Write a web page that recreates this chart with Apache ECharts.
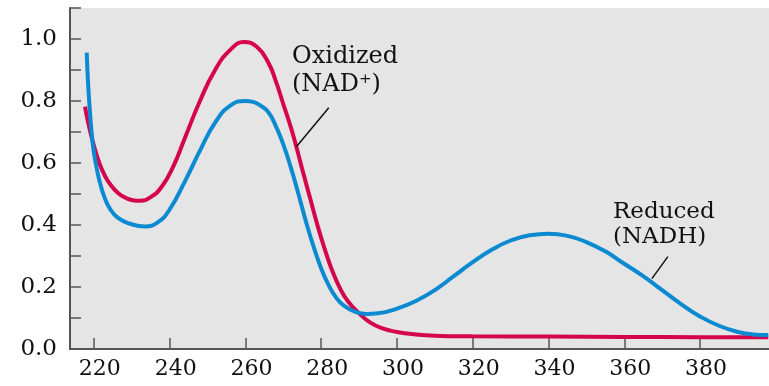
<!DOCTYPE html>
<html>
<head>
<meta charset="utf-8">
<script src="https://cdn.jsdelivr.net/npm/echarts@6/dist/echarts.min.js"></script>
<style>
html,body{margin:0;padding:0;background:#fff;}
#c{width:769px;height:386px;}
</style>
</head>
<body>
<div id="c"></div>
<script>
// Wavelength (nm) and absorbance values
const oxidizedNm  = [217.66,218.45,219.51,220.56,221.62,222.94,224.26,226.37,228.48,230.6,232.2,235,238,241,244,248,252,256,259.6,263,266,268,270,272,273.5,275,277,279,281,283,285,287,290,293,296,300,305,310,320,340,360,380,398];
const oxidizedAbs = [0.782,0.733,0.678,0.633,0.594,0.558,0.532,0.503,0.487,0.479,0.478,0.49,0.525,0.59,0.68,0.8,0.9,0.965,0.99,0.975,0.925,0.865,0.79,0.715,0.65,0.58,0.49,0.40,0.32,0.25,0.195,0.155,0.115,0.085,0.067,0.055,0.047,0.043,0.041,0.04,0.039,0.038,0.038];
const reducedNm  = [218.11,218.45,218.98,219.51,220.03,220.83,221.62,222.67,224.26,226.37,229.54,233.5,237,240,244,248,252,256,260,262,264,266,268,270,272,274,276,278,280,282,284,286,289,292,295,300,305,310,315,320,325,330,335,340,345,350,355,360,365,370,375,380,385,390,394,398];
const reducedAbs = [0.956,0.862,0.762,0.684,0.632,0.578,0.536,0.494,0.452,0.423,0.404,0.395,0.41,0.45,0.54,0.64,0.73,0.785,0.80,0.797,0.785,0.765,0.72,0.66,0.585,0.50,0.41,0.33,0.26,0.205,0.165,0.14,0.12,0.113,0.115,0.13,0.155,0.19,0.235,0.28,0.32,0.35,0.367,0.372,0.365,0.345,0.315,0.275,0.235,0.19,0.145,0.105,0.075,0.055,0.047,0.045];
const xTicks = [220,240,260,280,300,320,340,360,380];
const oxLeader  = [[282.0,0.778],[273.5,0.653]];
const redLeader = [[371.5,0.298],[367.3,0.227]];

const FONT = 'DejaVu Serif';
const zip = (a,b) => a.map((v,i)=>[v,b[i]]);
const chart = echarts.init(document.getElementById('c'), null, {renderer:'canvas'});
chart.setOption({
  animation:false,
  backgroundColor:'#ffffff',
  grid:{left:70,right:0,top:8,bottom:37,show:true,backgroundColor:'#e5e5e5',borderWidth:0},
  xAxis:{
    type:'value',min:213.7,max:398.2,
    axisLine:{show:true,lineStyle:{color:'#555',width:2}},
    axisTick:{show:true,inside:true,length:11,lineStyle:{color:'#555',width:1.5},customValues:xTicks},
    axisLabel:{customValues:xTicks,fontFamily:FONT,fontSize:22,color:'#111',margin:9,padding:[0,0,0,12]},
    splitLine:{show:false}
  },
  yAxis:{
    type:'value',min:0,max:1.1,interval:0.1,
    axisLine:{show:true,lineStyle:{color:'#555',width:2}},
    axisTick:{show:true,inside:true,length:11,lineStyle:{color:'#555',width:1.5}},
    axisLabel:{fontFamily:FONT,fontSize:23,color:'#111',margin:13,
      formatter:v=>{const k=Math.round(v*10);return k%2===0?(k/10).toFixed(1):'';}},
    splitLine:{show:false}
  },
  series:[
    {type:'line',name:'Oxidized',data:zip(oxidizedNm,oxidizedAbs),smooth:0.5,showSymbol:false,
     lineStyle:{color:'#d4054e',width:4},z:3,
     markLine:{silent:true,symbol:'none',label:{show:false},lineStyle:{color:'#111',width:1.5,type:'solid'},
       data:[[{coord:oxLeader[0]},{coord:oxLeader[1]}]]}},
    {type:'line',name:'Reduced',data:zip(reducedNm,reducedAbs),smooth:0.5,showSymbol:false,
     lineStyle:{color:'#0b8ad2',width:4},z:4,
     markLine:{silent:true,symbol:'none',label:{show:false},lineStyle:{color:'#111',width:1.5,type:'solid'},
       data:[[{coord:redLeader[0]},{coord:redLeader[1]}]]}}
  ],
  graphic:[
    {type:'text',left:292,top:43,style:{text:'Oxidized\n(NAD⁺)',fontFamily:FONT,fontSize:24,fill:'#111',lineHeight:28}},
    {type:'text',left:613,top:200,style:{text:'Reduced\n(NADH)',fontFamily:FONT,fontSize:23,fill:'#111',lineHeight:25}}
  ]
});
</script>
</body>
</html>
